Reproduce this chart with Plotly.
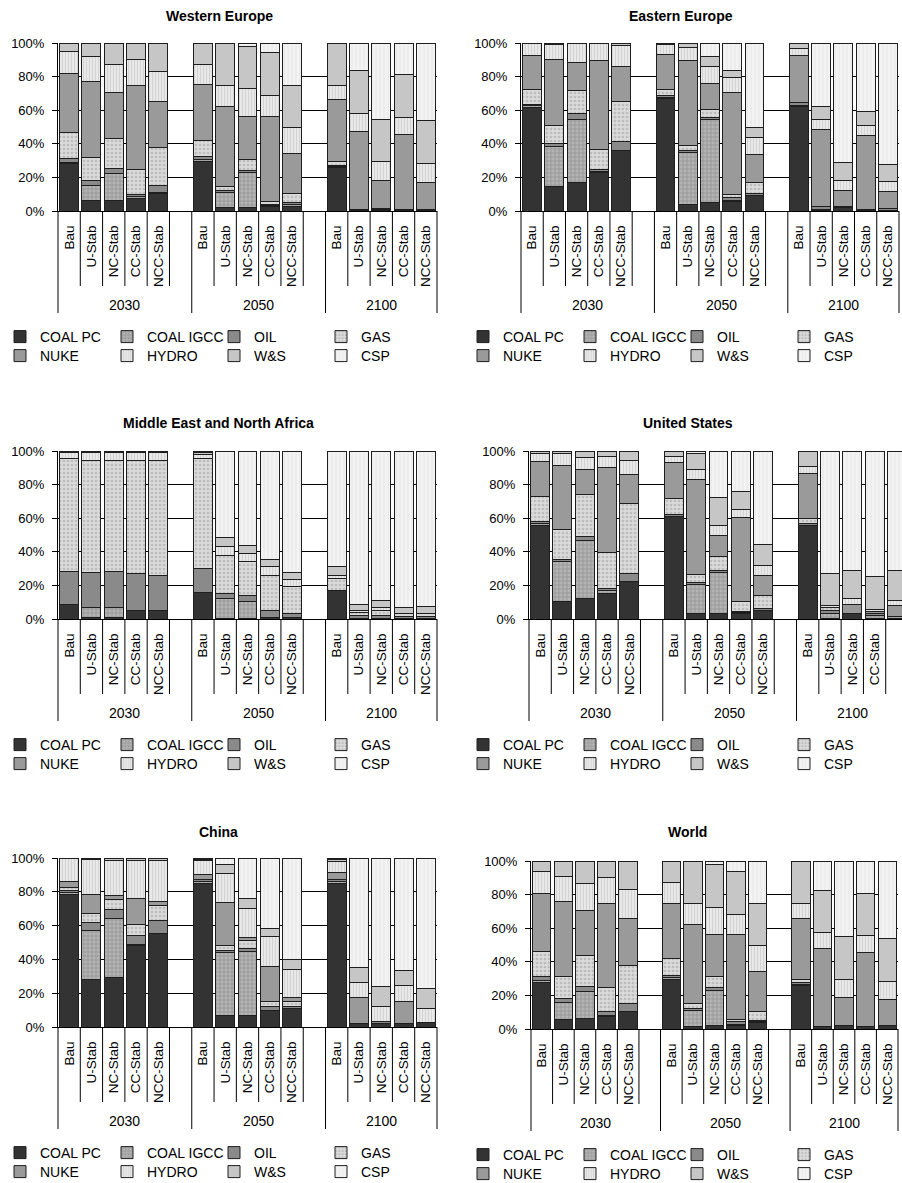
import plotly.graph_objects as go

# ---------------- data ----------------
SERIES = ["COAL PC", "COAL IGCC", "OIL", "GAS", "NUKE", "HYDRO", "W&S", "CSP"]
YEARS = ["2030", "2050", "2100"]
SCENARIOS = ["Bau", "U-Stab", "NC-Stab", "CC-Stab", "NCC-Stab"]
PANEL_TITLES = ["Western Europe", "Eastern Europe", "Middle East and North Africa",
                "United States", "China", "World"]

# each row = one technology (order of SERIES); 15 values = 2030 x5, 2050 x5, 2100 x5 scenarios
WESTERN_EUROPE = [
    [28, 6, 6.4, 7.4, 10.4, 29.7, 1.8, 2, 2.4, 2.4, 25.9, 0.5, 0.5, 0.5, 0.5],
    [1, 9, 16, 1, 0.4, 1, 9, 20.7, 0.6, 1.2, 0.8, 0, 0.5, 0, 0],
    [2, 3, 3, 1.6, 4.3, 1.6, 1.2, 1.2, 1, 1.4, 0.5, 0.5, 0.5, 0.3, 0.5],
    [16, 14, 18, 14.7, 22.5, 9.5, 2.3, 7, 1.4, 5.4, 2, 0, 0, 0, 0],
    [35, 45, 27, 50, 27.5, 33.7, 48.2, 25.3, 50.6, 23.9, 37, 46.6, 16.5, 44.8, 16.2],
    [13, 15, 16.6, 15.3, 18, 12, 12.2, 16.5, 12.9, 15.3, 8.6, 10.2, 11.4, 10, 11.2],
    [5, 8, 13, 10, 17, 12.5, 25.3, 25.3, 25.3, 25.1, 25.3, 25.7, 24.9, 25.4, 25.7],
    [0, 0, 0, 0, 0, 0, 0, 2, 5.6, 25.3, 0, 16.5, 45.7, 19, 45.9],
]
EASTERN_EUROPE = [
    [61.8, 14.3, 16.7, 22.7, 36.3, 66.7, 4, 4.8, 5.8, 9, 62.5, 0.5, 2, 0.5, 0.5],
    [0.8, 23.9, 37.5, 0.8, 0, 0.8, 30.9, 49.8, 0.6, 0.5, 0.5, 0.5, 0, 0, 0],
    [1, 2, 3.6, 1.4, 4.9, 1, 1.4, 1.2, 1.4, 0.9, 1.5, 1.4, 0.8, 0.3, 1],
    [8.6, 10.4, 13.9, 12, 23.9, 3.6, 2.5, 4.4, 2, 6.3, 0, 0, 0, 0, 0],
    [20.5, 39.4, 16.9, 52.5, 21, 21.3, 50.6, 15.9, 60.9, 17, 28.1, 46, 9.6, 44.4, 9.9],
    [6.8, 9.4, 11, 10.6, 12.3, 6, 8, 10, 8.8, 9.9, 4.4, 6, 5.9, 5.4, 5.9],
    [0.5, 0.6, 0.3, 0, 1.6, 0.6, 2.2, 5.9, 4.2, 6.2, 3, 7.9, 10.4, 8.6, 10.4],
    [0, 0, 0, 0, 0, 0, 0.4, 8, 16.3, 50.2, 0, 37.7, 71.3, 40.8, 72.3],
]
MIDDLE_EAST_NORTH_AFRICA = [
    [8.9, 1, 1, 5.3, 5.3, 15.8, 0.5, 0.5, 1, 1, 17.2, 0.3, 0.3, 0.3, 0.3],
    [0, 5.9, 5.9, 0, 0, 0, 11.8, 10.2, 0, 0, 0, 0, 0, 0, 0],
    [19.6, 20.8, 21.6, 21.8, 20.4, 14.3, 2.9, 3.2, 4, 2.4, 0, 1.5, 1.5, 1, 1],
    [66.9, 66.4, 65.6, 67, 68.4, 65.3, 22.4, 20.6, 21.1, 16.2, 7, 2.2, 3.2, 1.7, 1.7],
    [0, 0, 0, 0, 0, 0, 0, 0, 0, 0, 0, 0, 0, 0, 0],
    [4, 5.3, 5.1, 4.9, 4.9, 2.6, 5.8, 4.5, 5, 4.2, 1.5, 1.3, 1.7, 0, 0.5],
    [0.6, 0.6, 0.8, 1, 1, 1.4, 4.9, 5, 4.3, 3.7, 5.3, 3.4, 4.2, 3.9, 4.2],
    [0, 0, 0, 0, 0, 0.6, 51.7, 56, 64.6, 72.5, 69, 91.3, 89.1, 93.1, 92.3],
]
UNITED_STATES = [
    [55.8, 10.3, 12.3, 15.2, 22.6, 61.2, 3, 3.4, 3, 5.3, 55.8, 0.5, 3, 0.5, 0.5],
    [1, 23.8, 34.6, 2, 0, 0, 17.8, 24.3, 0.8, 0, 0, 2.5, 0, 1.5, 1],
    [1, 1.3, 2.4, 1, 4.5, 1.2, 0.8, 1, 0.6, 1, 1, 2.3, 0, 1, 0],
    [15.3, 17.9, 25, 21.2, 41.6, 9.3, 5.1, 8.3, 5.9, 7.4, 3, 1.6, 0, 0, 0],
    [20.4, 38.2, 14.8, 50.7, 17.2, 21.4, 56.3, 12.9, 50.1, 12.4, 27.1, 0, 5.9, 1.5, 6.8],
    [5.1, 7.1, 7.3, 6.9, 8.2, 3.9, 5.9, 5.9, 4.7, 6, 3.6, 1.4, 3.4, 1.4, 2.6],
    [1.4, 1.4, 3.6, 3, 5.9, 3, 9.9, 16.5, 10.9, 12.5, 9.5, 18.8, 16.8, 19.2, 18.2],
    [0, 0, 0, 0, 0, 0, 1.2, 27.7, 24, 55.4, 0, 72.9, 70.9, 74.9, 70.9],
]
CHINA = [
    [78.3, 28.4, 29, 48.1, 55.6, 85.2, 6.7, 6.7, 9.9, 10.8, 85.2, 2, 2, 1.8, 2.4],
    [1, 28.6, 35.1, 0.6, 0, 1, 37.1, 38.1, 0, 0, 1, 0, 0, 0, 0],
    [1.4, 5.1, 5.3, 5.3, 7.3, 1, 1.6, 1.9, 2.3, 1.4, 1, 0, 1.4, 0, 0],
    [1.9, 5, 5.9, 6.9, 8.9, 0, 2.9, 4.4, 2.6, 2.6, 0, 0, 0, 0, 0],
    [3.6, 11.2, 2.4, 15, 2.6, 3.3, 25.1, 1.6, 21.1, 2.4, 4.3, 15.6, 0, 13.4, 0],
    [13.8, 20.7, 20.9, 22.7, 24.2, 8.1, 17.7, 17.7, 17.4, 17.1, 6.5, 8.8, 8.8, 9.5, 8.8],
    [0, 1, 1.4, 1.4, 1.4, 0.8, 5, 5.5, 4.7, 5.5, 1.4, 8.9, 11.9, 8.6, 11.3],
    [0, 0, 0, 0, 0, 0.6, 3.9, 24.1, 42, 60.2, 0.6, 64.7, 75.9, 66.7, 77.5],
]
WORLD = [
    [27.7, 5.7, 6.3, 7.3, 10.3, 29.5, 1.4, 2, 2, 4, 25.7, 1.4, 1.8, 1.4, 1.8],
    [1, 10.1, 15.9, 1, 0, 1, 9.5, 21.2, 0.5, 0.5, 1, 0, 0, 0, 0],
    [2.4, 2.4, 3.3, 2, 4.9, 1.6, 1.4, 1.4, 1.9, 0.3, 0.8, 0, 0, 0, 0],
    [15.2, 13.3, 18.1, 14.5, 22.4, 9.9, 2.6, 6.5, 1.3, 5.5, 2, 0, 0, 0, 0],
    [34.3, 44.5, 27.1, 49.9, 28.1, 32.7, 47.5, 25.1, 50.5, 24.2, 36.2, 46.5, 16.8, 43.9, 16],
    [12.9, 14.9, 15.8, 15.2, 17.3, 12.4, 12.3, 16.1, 11.9, 15.4, 9, 9.3, 10.9, 10.1, 10.7],
    [6.5, 9.1, 13.5, 10.1, 17, 12.9, 25.3, 25.9, 25.8, 24.8, 25.3, 25, 25.4, 25.2, 25.4],
    [0, 0, 0, 0, 0, 0, 0, 1.8, 6.1, 25.3, 0, 17.8, 45.1, 19.4, 46.1],
]
PANEL_DATA = [WESTERN_EUROPE, EASTERN_EUROPE, MIDDLE_EAST_NORTH_AFRICA,
              UNITED_STATES, CHINA, WORLD]

# ---------------- styling ----------------
W, H = 902, 1183
FONT = "Arial, 'Liberation Sans', sans-serif"

STYLE = {
    "COAL PC":   dict(color="#333333"),
    "COAL IGCC": dict(color="#b0b0b0", pattern=dict(shape="+", fgcolor="#8c8c8c", bgcolor="#b4b4b4", size=4, solidity=0.3)),
    "OIL":       dict(color="#8a8a8a"),
    "GAS":       dict(color="#d8d8d8", pattern=dict(shape=".", fgcolor="#bcbcbc", bgcolor="#dadada", size=4, solidity=0.35)),
    "NUKE":      dict(color="#9a9a9a"),
    "HYDRO":     dict(color="#e6e6e6", pattern=dict(shape="|", fgcolor="#d0d0d0", bgcolor="#e8e8e8", size=3, solidity=0.3)),
    "W&S":       dict(color="#c6c6c6"),
    "CSP":       dict(color="#f1f1f1", pattern=dict(shape="|", fgcolor="#e2e2e2", bgcolor="#f3f3f3", size=4, solidity=0.2)),
}

# panel layout in page pixels: plot-area x0, x1, y_top, y_bottom; title centre; legend left;
# right end of the category range (the US panel is cut by the page edge in the original)
PANEL_BOX = [
    (58, 437, 43, 211, 219, 16, -6, 16.5),
    (521, 899, 43, 211, 681, 16, 463, 16.5),
    (58, 437, 451, 619, 218, 423, -6, 16.5),
    (529, 902, 451, 619, 688, 423, 463, 16.23),
    (58, 437, 858, 1027, 218, 832, -6, 16.5),
    (531, 898, 861, 1029, 687, 832, 463, 16.5),
]


def px(x):
    return x / W


def py(y):
    return 1 - y / H


fig = go.Figure()
shapes = []
annotations = []

positions = [yi * 6 + si for yi in range(len(YEARS)) for si in range(len(SCENARIOS))]
labels = [s for _ in YEARS for s in SCENARIOS]

for p, (title, data) in enumerate(zip(PANEL_TITLES, PANEL_DATA)):
    i = p + 1
    sfx = "" if i == 1 else str(i)
    x0, x1, yt, yb, tx, ty, lx, r1 = PANEL_BOX[p]
    r0 = -0.5

    for s, name in enumerate(SERIES):
        st = STYLE[name]
        marker = dict(color=st["color"], line=dict(color="#1e1e1e", width=1))
        if "pattern" in st:
            marker["pattern"] = dict(fillmode="replace", **st["pattern"])
        leg_n = p * 2 + (s // 4) + 1
        fig.add_trace(go.Bar(
            x=positions,
            y=[v if v else None for v in data[s]],
            name=name,
            marker=marker,
            xaxis="x" + sfx, yaxis="y" + sfx,
            legend="legend" + ("" if leg_n == 1 else str(leg_n)),
            showlegend=True,
            hoverinfo="skip",
        ))

    fig.update_layout(**{
        "xaxis" + sfx: dict(
            domain=[px(x0), px(x1)], range=[r0, r1], anchor="y" + sfx,
            tickmode="array", tickvals=positions, ticktext=labels, tickangle=-90,
            ticks="", showgrid=False, zeroline=False, showline=True,
            linecolor="black", linewidth=1, ticklabelstandoff=8, automargin=False,
            tickfont=dict(family=FONT, size=13.5, color="black"),
        ),
        "yaxis" + sfx: dict(
            domain=[py(yb), py(yt)], range=[0, 100], anchor="x" + sfx,
            tickmode="array", tickvals=[0, 20, 40, 60, 80, 100],
            ticktext=["0%", "20%", "40%", "60%", "80%", "100%"],
            showgrid=True, gridcolor="black", gridwidth=1, zeroline=False,
            showline=True, linecolor="black", linewidth=1, automargin=False,
            ticks="outside", ticklen=5, tickcolor="black", ticklabelstandoff=5,
            tickfont=dict(family=FONT, size=13, color="black"),
        ),
    })

    # separators below the category axis (Excel style multi-level axis)
    def bx(b):
        return x0 + (b - r0) / (r1 - r0) * (x1 - x0)

    for k in range(0, 18):
        xpix = bx(k - 0.5)
        if xpix > W + 0.5:
            continue
        tall = k in (0, 6, 12, 17)
        length = 102 if tall else 75
        shapes.append(dict(type="line", xref="paper", yref="paper",
                           x0=px(xpix), x1=px(xpix), y0=py(yb), y1=py(yb + length),
                           line=dict(color="black", width=1)))

    # year labels
    for yi, yr in enumerate(YEARS):
        first = yi * 6 - 0.5
        last = (yi * 6 + 5.5) if yi < 2 else 16.5
        cx = (bx(first) + bx(last)) / 2
        annotations.append(dict(x=px(cx), y=py(yb + 94), xref="paper", yref="paper",
                                text=yr, showarrow=False, xanchor="center", yanchor="middle",
                                font=dict(family=FONT, size=14, color="black")))

    # title
    annotations.append(dict(x=px(tx), y=py(ty), xref="paper", yref="paper",
                            text="<b>" + title + "</b>", showarrow=False,
                            xanchor="center", yanchor="middle",
                            font=dict(family=FONT, size=14, color="black")))

    # two legend rows
    for row in range(2):
        leg_n = p * 2 + row + 1
        key = "legend" + ("" if leg_n == 1 else str(leg_n))
        fig.update_layout(**{key: dict(
            orientation="h", xref="container", yref="container",
            x=px(lx), xanchor="left",
            y=py(yb + 126 + row * 19), yanchor="middle",
            entrywidth=62, entrywidthmode="pixels",
            font=dict(family=FONT, size=14, color="black"),
            bgcolor="rgba(0,0,0,0)", traceorder="normal",
            itemclick=False, itemdoubleclick=False,
        )})

fig.update_layout(
    width=W, height=H,
    margin=dict(l=0, r=0, t=0, b=0, autoexpand=False),
    paper_bgcolor="white", plot_bgcolor="white",
    barmode="stack", barnorm="percent", bargap=0.15,
    shapes=shapes, annotations=annotations,
    font=dict(family=FONT, color="black"),
    showlegend=True,
)

fig.write_html("out.html")
